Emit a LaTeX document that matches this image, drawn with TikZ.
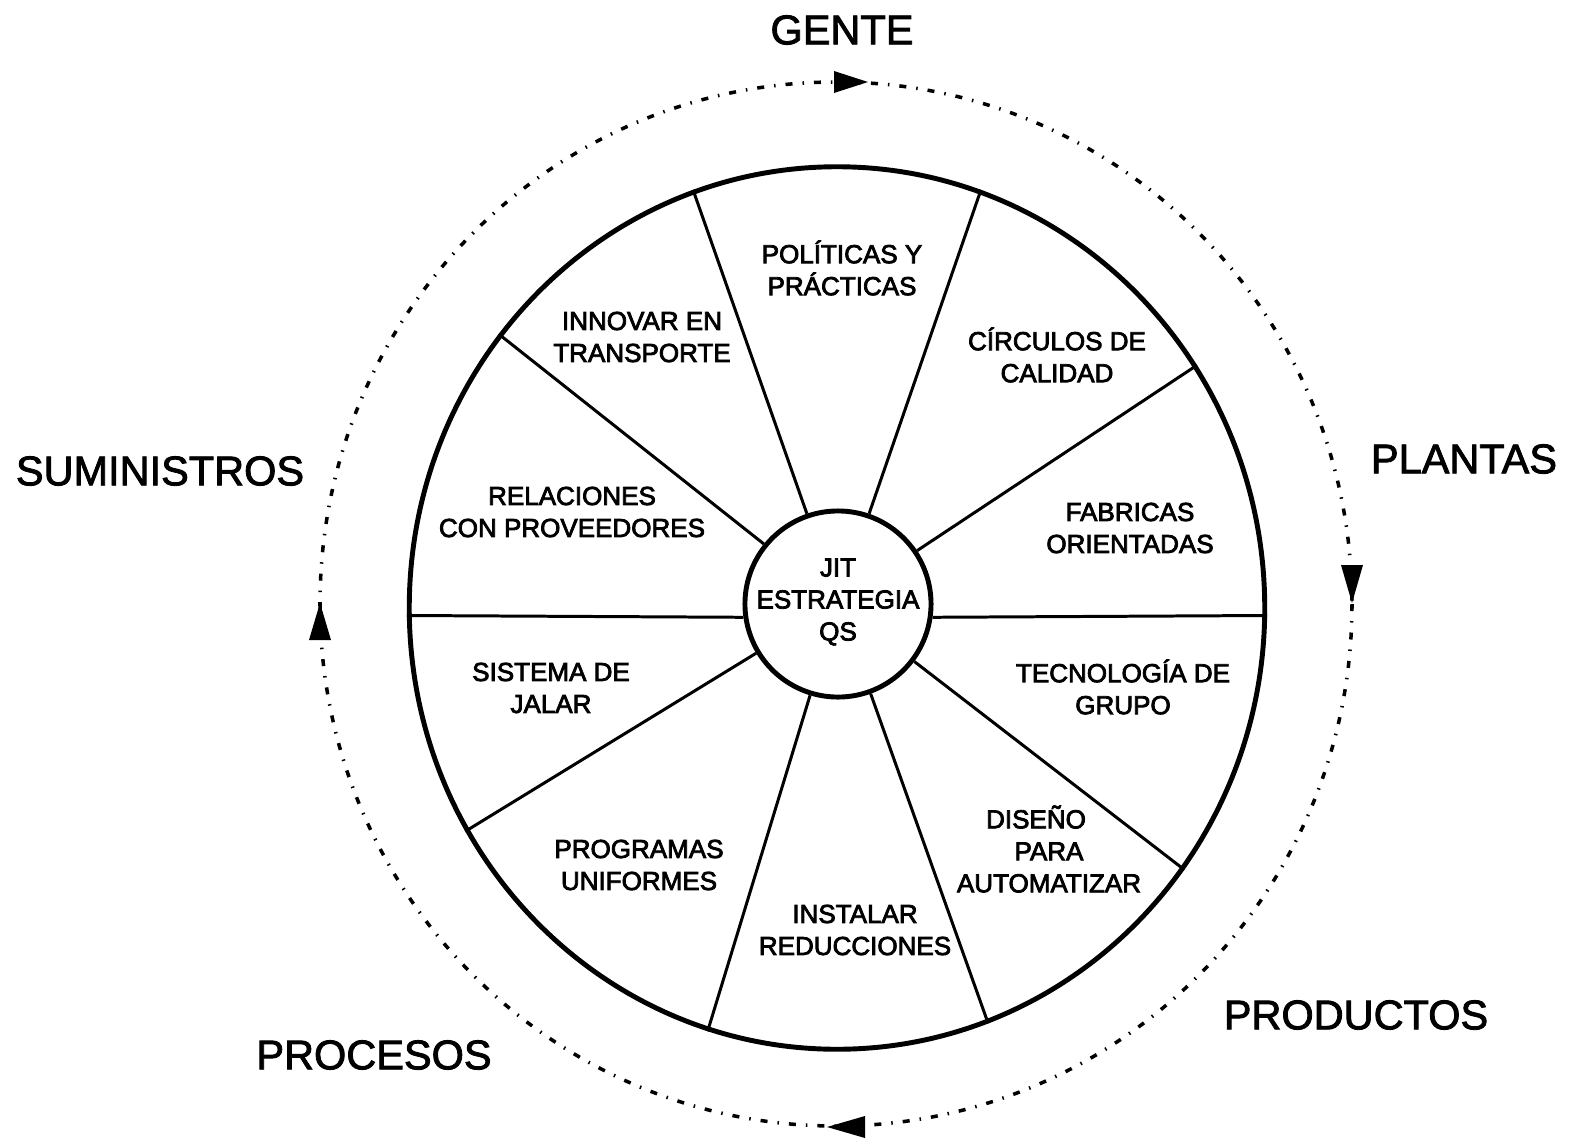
\documentclass[tikz,border=0pt]{standalone}
\usepackage{fontspec}
\setmainfont{Liberation Sans}
\newfontfamily\ringfont{Liberation Sans}[FakeBold=2]
\newfontfamily\slicefont{Liberation Sans}[FakeBold=3]
\usetikzlibrary{shapes.geometric}

\begin{document}
\begin{tikzpicture}[x=0.01cm,y=-0.01cm]
\tikzstyle{every node}+=[inner sep=0pt]
\tikzstyle{cycle path}=[dash pattern=on 0.07cm off 0.1cm on 0.015cm off 0.1cm, line width=1pt]
\tikzstyle{cycle label}=[font=\ringfont\fontsize{11.8}{14}\selectfont]
\tikzstyle{slice label}=[align=center, font=\slicefont\fontsize{7.4}{9.1}\selectfont]
\useasboundingbox (0,0) rectangle (1575,1139);
% wheel
\node [draw, ellipse, line width=1.4pt, minimum width=8.55cm, minimum height=8.82cm] (rim) at (837,608) {};
\node [draw, circle, line width=1.4pt, minimum size=1.86cm] (hub) at (838,604) {};
\node [slice label] (core) at (838,602) {JIT\\ESTRATEGIA\\QS};
\draw [line width=0.85pt] (hub.109) -- (rim.109);
\draw [line width=0.85pt] (hub.71) -- (rim.71);
\draw [line width=0.85pt] (hub.34) -- (rim.34);
\draw [line width=0.85pt] (hub.-8) -- (rim.-1);
\draw [line width=0.85pt] (hub.-37) -- (rim.-37);
\draw [line width=0.85pt] (hub.-70) -- (rim.-70);
\draw [line width=0.85pt] (hub.-107) -- (rim.-107);
\draw [line width=0.85pt] (hub.-149) -- (rim.-149);
\draw [line width=0.85pt] (hub.188) -- (rim.181);
\draw [line width=0.85pt] (hub.141) -- (rim.141);
% slices
\node [slice label] (politicas) at (842,268) {POLÍTICAS Y\\PRÁCTICAS};
\node [slice label] (circulos) at (1057,355) {CÍRCULOS DE\\CALIDAD};
\node [slice label] (fabricas) at (1130,528) {FABRICAS\\ORIENTADAS};
\node [slice label] (tecnologia) at (1123,687) {TECNOLOGÍA DE\\GRUPO};
\node [slice label] (diseno) at (1049,849) {DISEÑO\hspace*{0.26cm}\\PARA\\AUTOMATIZAR};
\node [slice label] (instalar) at (855,930) {INSTALAR\\REDUCCIONES};
\node [slice label] (programas) at (639,865) {PROGRAMAS\\UNIFORMES};
\node [slice label] (sistema) at (551,688) {SISTEMA DE\\JALAR};
\node [slice label] (relaciones) at (572,512) {RELACIONES\\CON PROVEEDORES};
\node [slice label] (innovar) at (642,337) {INNOVAR EN\\TRANSPORTE};
% cycle round the wheel
\draw [cycle path] (836,604) ellipse [x radius=516, y radius=522];
\fill (834,71) -- (834,93) -- (868,82) -- cycle;
\fill (1341,565) -- (1363,565) -- (1352,603) -- cycle;
\fill (865,1116) -- (865,1138) -- (827,1127) -- cycle;
\fill (309,640) -- (331,640) -- (320,603) -- cycle;
\node [cycle label] (gente) at (842,30) {GENTE};
\node [cycle label] (plantas) at (1464,459) {PLANTAS};
\node [cycle label] (productos) at (1356,1015) {PRODUCTOS};
\node [cycle label] (procesos) at (374,1055) {PROCESOS};
\node [cycle label] (suministros) at (160,471) {SUMINISTROS};
\end{tikzpicture}
\end{document}
